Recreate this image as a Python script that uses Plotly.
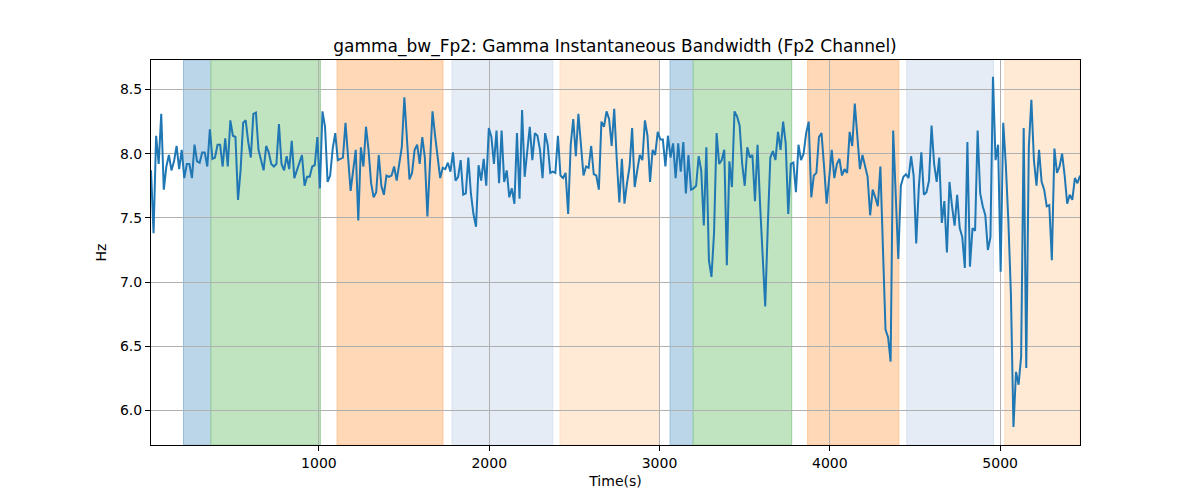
import numpy as np
import plotly.graph_objects as go

# ---- data ----
t_start = 14.0
t_end = 5469.0

values = [
    # segment 1
    7.87, 7.38, 8.14, 7.92, 8.31, 7.72, 7.90, 7.99, 7.87, 7.94, 8.06, 7.88, 8.03, 7.81, 7.92, 7.92,
    7.81, 8.07, 7.94, 7.93, 8.01, 8.01, 7.90, 8.19, 7.96, 7.97, 8.07, 8.07, 7.90, 8.12, 7.90, 8.26,
    8.14, 8.13, 7.64, 7.87, 8.24, 8.26, 8.09, 7.97, 8.31, 8.32, 8.03, 7.94, 7.87, 8.06, 8.01, 7.92,
    7.90, 7.92, 8.23, 7.92, 7.87, 7.98, 7.88, 8.10, 7.81, 7.87, 7.94, 7.99, 7.75, 7.82,
    # segment 2
    7.82, 7.90, 7.91, 8.13, 7.73, 8.33, 8.21, 7.78, 7.83, 8.04, 8.16, 7.95, 7.96, 7.97, 8.24, 7.95,
    7.71, 7.87, 8.03, 7.48, 8.05, 7.90, 8.21, 8.03, 7.77, 7.66, 7.70, 7.99, 7.75, 7.68, 7.83, 7.82,
    7.83, 7.90, 7.79, 7.92, 8.05, 8.44, 8.13, 7.80, 7.85, 8.03, 8.07, 7.92, 8.13, 7.97, 7.51, 7.97,
    8.33, 8.14, 7.95, 7.81, 7.89, 7.88, 7.93, 7.86, 8.01, 7.79, 7.82, 7.95,
    # segment 3
    7.68, 7.69, 7.97, 7.69, 7.53, 7.43, 7.91, 7.79, 7.96, 7.75, 8.20, 8.13, 7.92, 8.18, 7.77, 8.18,
    7.78, 7.87, 7.66, 7.73, 7.61, 8.16, 7.65, 8.34, 7.82, 8.00, 8.21, 7.95, 8.16, 8.14, 8.03, 7.81,
    8.16, 8.07, 7.85, 7.86, 7.85, 8.14, 7.83, 7.81, 7.85, 7.53, 8.07, 8.27, 7.98, 8.31, 8.05, 7.83,
    7.90, 7.89, 8.06, 7.84, 7.83, 7.72, 8.25, 8.21, 8.33, 8.27, 8.06, 8.35, 7.95, 7.62,
    # segment 4
    7.96, 7.61, 7.77, 7.90, 8.20, 7.74, 7.87, 7.99, 7.95, 8.26, 8.14, 7.78, 8.03, 7.99, 8.17, 8.11,
    8.11, 7.90, 8.14, 7.97, 8.08, 7.81, 8.08, 7.86, 8.09, 7.69, 7.99, 7.72, 7.73, 7.75, 7.98, 7.87,
    7.44, 8.05, 7.17, 7.04, 7.38, 8.16, 7.92, 7.95, 8.03, 7.13, 7.94, 7.74, 8.33, 8.29, 8.22, 7.92,
    7.75, 8.05, 7.97, 7.99, 7.63, 8.07, 7.60, 7.17, 6.81, 7.43, 7.97, 8.02,
    # segment 5
    7.95, 8.17, 8.03, 8.25, 8.08, 7.53, 7.92, 7.93, 7.70, 8.07, 7.95, 8.00, 8.16, 8.25, 7.66, 7.83,
    7.85, 8.13, 8.16, 7.90, 7.61, 7.81, 8.03, 7.81, 7.92, 7.96, 7.83, 7.88, 7.85, 8.17, 8.06, 8.39,
    8.11, 7.88, 7.99, 7.90, 7.82, 7.52, 7.72, 7.66, 7.59, 7.90, 7.17, 6.63, 6.57, 6.38, 8.18, 7.69,
    7.18, 7.75, 7.82, 7.84, 7.81, 7.98, 7.83, 7.30, 7.73, 8.01, 7.68, 7.70, 7.79,
    # segment 6
    8.22, 7.92, 7.78, 7.97, 7.46, 7.63, 7.23, 7.78, 7.59, 7.44, 7.68, 7.42, 7.35, 7.11, 8.09, 7.12,
    7.42, 7.40, 8.18, 7.69, 7.59, 7.52, 7.25, 7.35, 8.60, 7.95, 8.07, 7.08, 8.24, 7.92, 7.48, 6.91,
    5.87, 6.30, 6.20, 6.42, 8.20, 6.33, 8.05, 8.42, 7.95, 7.75, 8.03, 7.78, 7.72, 7.59, 7.60, 7.17,
    8.04, 7.85, 7.90, 8.00, 7.83, 7.61, 7.68, 7.64, 7.81, 7.77, 7.83,
]
# evenly sampled time stamps spanning the recording
times = np.linspace(t_start, t_end, len(values))

band_starts = [205, 366, 1107, 1782, 2416, 3062, 3198, 3870, 4452, 5028]
band_ends = [366, 1008, 1728, 2373, 2999, 3198, 3776, 4405, 4961, 5600]
band_kinds = ["blue", "green", "orange", "lightblue", "lightorange",
              "blue", "green", "orange", "lightblue", "lightorange"]

x_ticks = [1000, 2000, 3000, 4000, 5000]
y_ticks = [6.0, 6.5, 7.0, 7.5, 8.0, 8.5]

band_fill = {
    "blue": "rgb(188,214,233)",
    "green": "rgb(192,227,192)",
    "orange": "rgb(255,217,183)",
    "lightblue": "rgb(229,236,246)",
    "lightorange": "rgb(255,234,214)",
}
band_edge = {
    "blue": "rgb(150,190,220)",
    "green": "rgb(150,205,150)",
    "orange": "rgb(255,195,145)",
    "lightblue": "rgb(215,226,240)",
    "lightorange": "rgb(255,222,192)",
}

fig = go.Figure()
fig.add_trace(go.Scatter(x=times, y=values, mode="lines",
                         line=dict(color="#1f77b4", width=2), showlegend=False,
                         hoverinfo="skip"))

x_lo = float(times[0])
x_hi = float(times[-1])

for s, e, k in zip(band_starts, band_ends, band_kinds):
    fig.add_shape(type="rect", xref="x", yref="paper", x0=s, x1=min(e, x_hi),
                  y0=0, y1=1, fillcolor=band_fill[k],
                  line=dict(color=band_edge[k], width=1), layer="below")

font = "DejaVu Sans, Arial, sans-serif"
fig.update_layout(
    width=1200, height=500,
    margin=dict(l=151, r=120, t=60, b=55),
    paper_bgcolor="white", plot_bgcolor="white",
    font=dict(family=font, size=14, color="black"),
    title=dict(text="gamma_bw_Fp2: Gamma Instantaneous Bandwidth (Fp2 Channel)",
               x=0.5125, xanchor="center", y=0.908, yanchor="middle",
               font=dict(size=17, family=font, color="black")),
    xaxis=dict(range=[x_lo, x_hi], tickvals=x_ticks, ticktext=[str(v) for v in x_ticks],
               showgrid=True, gridcolor="#b0b0b0", gridwidth=1,
               showline=True, linecolor="black", linewidth=1, mirror=True,
               ticks="outside", ticklen=5, tickcolor="black", zeroline=False,
               title=dict(text="Time(s)", font=dict(size=14), standoff=6),
               tickfont=dict(size=14)),
    yaxis=dict(range=[5.73, 8.73], tickvals=y_ticks, ticktext=[f"{v:.1f}" for v in y_ticks],
               showgrid=True, gridcolor="#b0b0b0", gridwidth=1,
               showline=True, linecolor="black", linewidth=1, mirror=True,
               ticks="outside", ticklen=5, tickcolor="black", zeroline=False,
               title=dict(text="Hz", font=dict(size=14), standoff=10),
               tickfont=dict(size=14)),
)

fig.write_html("out.html")
